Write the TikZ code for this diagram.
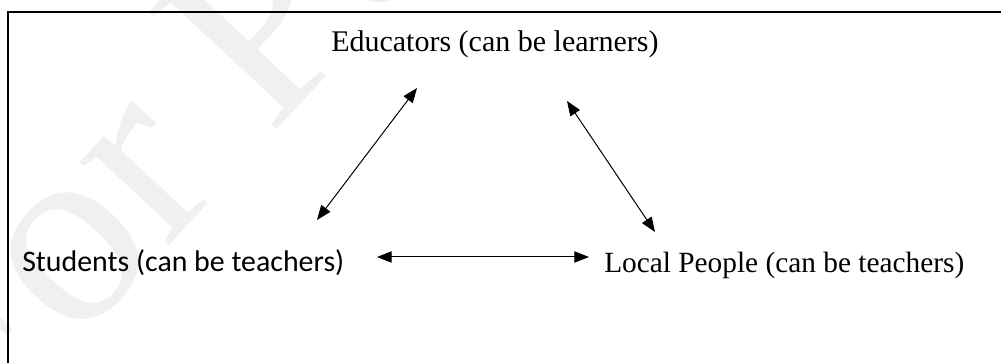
\documentclass[tikz,border=0pt]{standalone}
\usepackage{fontspec}
\setmainfont{Liberation Serif}
\newfontfamily\calibrifont{Carlito}
\usetikzlibrary{arrows.meta}

\tikzset{
  twoway/.style={{Triangle[length=11pt,width=8.5pt]}-{Triangle[length=11pt,width=8.5pt]}, line width=0.75pt},
  textnode/.style={anchor=base west, inner sep=0pt, font=\fontsize{22.5}{26}\selectfont},
  markstyle/.style={anchor=base west, inner sep=0pt, rotate=47, text=gray!12, font=\fontsize{199}{199}\selectfont},
}

\begin{document}
\begin{tikzpicture}[x=0.75pt,y=0.75pt,yscale=-1,xscale=1]
	\useasboundingbox (0,0) rectangle (1001,363);
	
	% Watermark
	\begin{scope}
		\clip (0,0) rectangle (1001,363);
		\node[markstyle] (mark) at (-26,455) {For Peer Review};
	\end{scope}
	
	% Frame
	\coordinate (framebot) at (8,363);
	\coordinate (framecorner) at (8,12);
	\coordinate (frameright) at (1001,12);
	\draw [line width=1pt] (framebot) -- (framecorner) -- (frameright);
	
	% Text Node
	\node [textnode] (educators) at (331,52) {Educators (can be learners)};
	% Text Node
	\node [textnode, font=\calibrifont\fontsize{22.4}{26}\selectfont] (students) at (22,272) {Students (can be teachers)};
	% Text Node
	\node [textnode, font=\fontsize{22}{26}\selectfont] (locals) at (604,273) {Local People (can be teachers)};
	
	% Arrow ends
	\coordinate (eduleft) at (417,88);
	\coordinate (stutop) at (317,220);
	\coordinate (eduright) at (567,101);
	\coordinate (loctop) at (655,232);
	\coordinate (sturight) at (377,257);
	\coordinate (locleft) at (589,257);
	
	%Straight Lines
	\draw [twoway] (eduleft) -- (stutop);
	\draw [twoway] (eduright) -- (loctop);
	\draw [twoway] (sturight) -- (locleft);
	
\end{tikzpicture}
\end{document}
